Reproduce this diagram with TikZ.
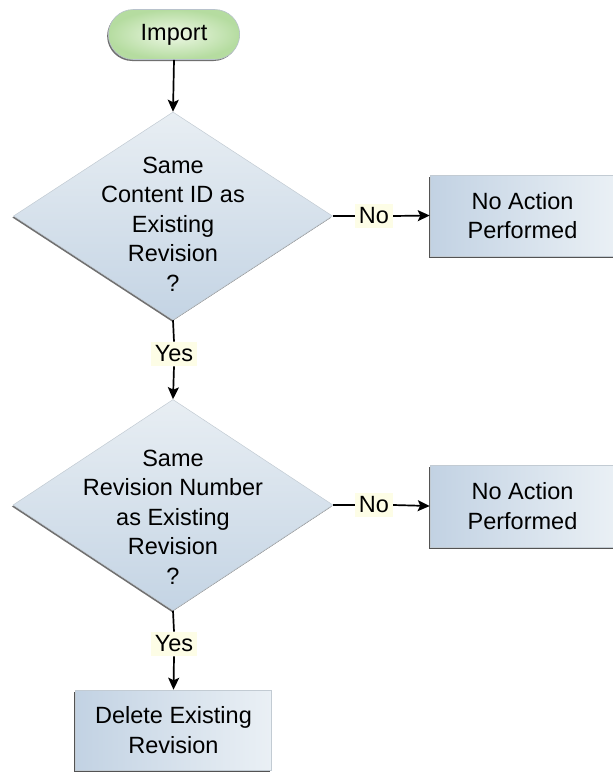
\documentclass[tikz,border=0pt]{standalone}
\usepackage{fontspec}
\setmainfont{Liberation Sans}
\usetikzlibrary{shapes.geometric,shapes.misc,arrows.meta,shadows}
\definecolor{boxL}{HTML}{C2D2E3}
\definecolor{boxR}{HTML}{EAF0F5}
\definecolor{diaT}{HTML}{E8EEF3}
\definecolor{diaB}{HTML}{C4D4E4}
\definecolor{grnI}{HTML}{EEF8E6}
\definecolor{grnO}{HTML}{B5DCA0}
\definecolor{lblY}{HTML}{FDFDE6}
\definecolor{edgeG}{HTML}{9AA8B6}
\tikzset{
  base/.style={font=\fontsize{23.5}{29.5}\selectfont, align=center},
  startnode/.style={base, rounded rectangle, minimum width=138pt, minimum height=50pt,
    inner color=grnI, outer color=grnO, draw=edgeG!70, line width=0.6pt,
    drop shadow={shadow xshift=-1.2pt, shadow yshift=-1.5pt, fill=black!70, opacity=0.8}},
  decision/.style={diamond, minimum width=319pt, minimum height=208pt, inner sep=0pt,
    top color=diaT, bottom color=diaB, draw=edgeG!60, line width=0.5pt,
    drop shadow={shadow xshift=-1.2pt, shadow yshift=-1.5pt, fill=black!70, opacity=0.8}},
  dtext/.style={base},
  process/.style={base, rectangle, left color=boxL, right color=boxR, draw=edgeG!60, line width=0.5pt,
    drop shadow={shadow xshift=-1.5pt, shadow yshift=-1.8pt, fill=black!75, opacity=0.9}},
  lbl/.style={base, fill=lblY, inner xsep=4pt, inner ysep=4pt},
  flow/.style={line width=1.7pt, -{Stealth[length=12pt,width=11pt,inset=2.5pt]}},
  plain/.style={line width=1.7pt}
}
\begin{document}
\begin{tikzpicture}[x=1pt,y=1pt]
\useasboundingbox (0,0) rectangle (613,-772);
\node[startnode] (imp) at (174,-34.5) {Import};
\node[decision] (d1) at (173,-216) {};
\node[dtext, yshift=-8pt] (t1) at (d1) {Same\\Content ID as\\Existing\\Revision\\?};
\node[process, minimum width=185pt, minimum height=81pt] (n1) at (522.5,-215.5) {No Action\\Performed};
\node[lbl] (no1) at (374,-216) {No};
\node[lbl] (yes1) at (174,-354) {Yes};
\node[decision, minimum width=320pt, minimum height=211pt] (d2) at (173,-505) {};
\node[dtext, yshift=-12pt] (t2) at (d2) {Same\\Revision Number\\as Existing\\Revision\\?};
\node[process, minimum width=185pt, minimum height=82pt] (n2) at (522.5,-506) {No Action\\Performed};
\node[lbl] (no2) at (374,-505) {No};
\node[lbl] (yes2) at (174,-644) {Yes};
\node[process, minimum width=196pt, minimum height=80pt] (del) at (173.5,-730) {Delete Existing\\Revision};

\draw[flow] (imp.south) -- (d1.north);
\draw[plain] (d1.east) -- (no1.west);
\draw[flow] (no1.east) -- (n1.west);
\draw[plain] (d1.south) -- (yes1.north);
\draw[flow] (yes1.south) -- (d2.north);
\draw[plain] (d2.east) -- (no2.west);
\draw[flow] (no2.east) -- (n2.west);
\draw[plain] (d2.south) -- (yes2.north);
\draw[flow] (yes2.south) -- (del.north);
\end{tikzpicture}
\end{document}
